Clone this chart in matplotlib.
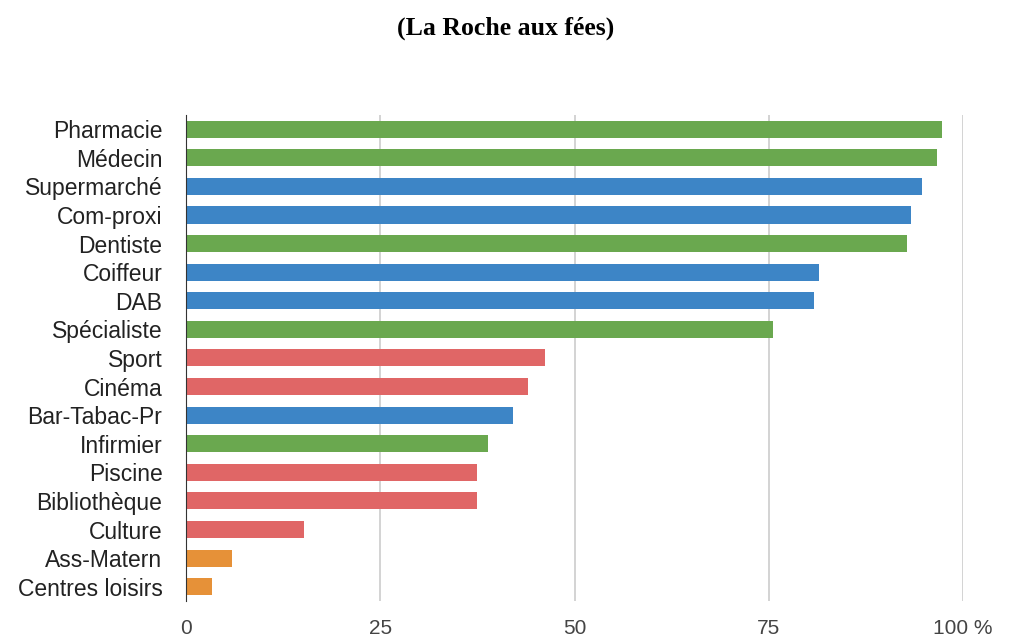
import numpy as np
import matplotlib.pyplot as plt

# Data
categories = ['Pharmacie', 'Médecin', 'Supermarché', 'Com-proxi', 'Dentiste',
              'Coiffeur', 'DAB', 'Spécialiste', 'Sport', 'Cinéma', 'Bar-Tabac-Pr',
              'Infirmier', 'Piscine', 'Bibliothèque', 'Culture', 'Ass-Matern',
              'Centres loisirs']
values = [97.3, 96.7, 94.7, 93.3, 92.8, 81.5, 80.8, 75.5, 46.2, 44.0, 42.1,
          38.9, 37.5, 37.5, 15.2, 5.9, 3.3]
groups = ['sante', 'sante', 'commerce', 'commerce', 'sante', 'commerce', 'commerce',
          'sante', 'loisir', 'loisir', 'commerce', 'sante', 'loisir', 'loisir',
          'loisir', 'enfance', 'enfance']
xticks = [0, 25, 50, 75, 100]
xticklabels = ['0', '25', '50', '75', '100 %']

group_colors = {'sante': '#6aa84f', 'commerce': '#3d85c6',
                'loisir': '#e06666', 'enfance': '#e69138'}

plt.rcParams['font.family'] = ['Liberation Sans', 'DejaVu Sans']

fig = plt.figure(figsize=(10.11, 6.38), dpi=100)
ax = fig.add_axes([0.184, 0.058, 0.7685, 0.762])

y = np.arange(len(categories))
colors = [group_colors[g] for g in groups]
ax.barh(y, values, height=0.6, color=colors, zorder=3)

ax.set_ylim(len(categories) - 0.5, -0.5)
ax.set_xlim(0, 100)
ax.set_yticks(y)
ax.set_yticklabels(categories, fontsize=16.5, color='#222222')
ax.set_xticks(xticks)
ax.set_xticklabels(xticklabels, fontsize=15, color='#444444')
ax.tick_params(axis='both', length=0)
ax.tick_params(axis='x', pad=13)
ax.tick_params(axis='y', pad=17)

ax.grid(axis='x', color='#cccccc', linewidth=1.2, zorder=0)
for s in ['top', 'right', 'bottom']:
    ax.spines[s].set_visible(False)
ax.spines['left'].set_color('#333333')
ax.spines['left'].set_zorder(4)

fig.text(0.5, 0.955, '(La Roche aux fées)', ha='center', va='center',
         fontsize=18.5, fontweight='bold', family='Liberation Serif')

fig.savefig('out.png', dpi=100)
